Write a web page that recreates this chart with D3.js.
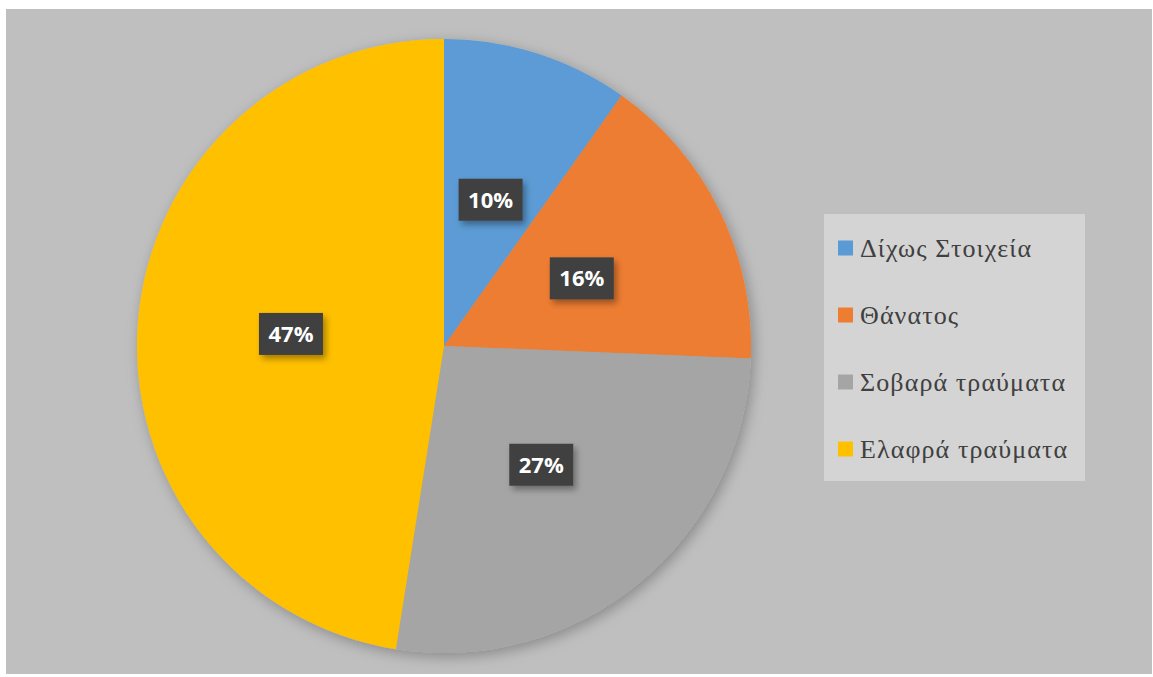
<!DOCTYPE html>
<html>
<head>
<meta charset="utf-8">
<script src="https://cdn.jsdelivr.net/npm/d3@7"></script>
<style>
  body { margin: 0; background: #fff; }
  svg { display: block; }
</style>
</head>
<body>
<svg width="1153" height="677"></svg>
<script>
var categories = ['Δίχως Στοιχεία', 'Θάνατος', 'Σοβαρά τραύματα', 'Ελαφρά τραύματα']
var values = [9.8, 15.8, 26.8, 47.4]
var colors = ['#5b9bd5', '#ed7d31', '#a5a5a5', '#ffc000']

var svg = d3.select('svg')
var defs = svg.append('defs')

var pieShadow = defs.append('filter').attr('id', 'pieShadow')
  .attr('x', '-20%').attr('y', '-20%').attr('width', '140%').attr('height', '140%')
pieShadow.append('feDropShadow')
  .attr('dx', 3).attr('dy', 4).attr('stdDeviation', 7)
  .attr('flood-color', '#000').attr('flood-opacity', 0.28)

var boxShadow = defs.append('filter').attr('id', 'boxShadow')
  .attr('x', '-30%').attr('y', '-30%').attr('width', '170%').attr('height', '180%')
boxShadow.append('feDropShadow')
  .attr('dx', 3).attr('dy', 4).attr('stdDeviation', 3)
  .attr('flood-color', '#000').attr('flood-opacity', 0.35)

// chart area
svg.append('rect')
  .attr('x', 6).attr('y', 9).attr('width', 1146).attr('height', 665)
  .attr('fill', '#bfbfbf')

var cx = 444, cy = 346, r = 307
var total = d3.sum(values)
var pct = d3.format('.0%')

var pie = d3.pie().sort(null)
var arcs = pie(values)
var arc = d3.arc().innerRadius(0).outerRadius(r)
var labelArc = d3.arc().innerRadius(r * 0.5).outerRadius(r * 0.5)

var g = svg.append('g').attr('transform', 'translate(' + cx + ',' + cy + ')')

g.append('g').attr('filter', 'url(#pieShadow)')
  .selectAll('path')
  .data(arcs)
  .enter()
  .append('path')
  .attr('d', arc)
  .attr('fill', function (d, i) { return colors[i] })

var labels = g.selectAll('.label')
  .data(arcs)
  .enter()
  .append('g')
  .attr('class', 'label')
  .attr('transform', function (d) {
    var c = labelArc.centroid(d)
    return 'translate(' + c[0] + ',' + c[1] + ')'
  })

labels.append('rect')
  .attr('x', -32).attr('y', -21).attr('width', 64).attr('height', 42)
  .attr('fill', '#404040')
  .attr('filter', 'url(#boxShadow)')

labels.append('text')
  .attr('text-anchor', 'middle')
  .attr('dy', '0.36em')
  .attr('fill', '#fff')
  .attr('font-family', '"Open Sans", "DejaVu Sans", sans-serif')
  .attr('font-weight', 'bold')
  .attr('font-size', 22)
  .text(function (d) { return pct(d.data / total) })

// legend
var legend = svg.append('g')
legend.append('rect')
  .attr('x', 824).attr('y', 214).attr('width', 261).attr('height', 267)
  .attr('fill', '#d4d4d4')

var ly = d3.scalePoint().domain(categories).range([248, 449])

var item = legend.selectAll('.item')
  .data(categories)
  .enter()
  .append('g')
  .attr('class', 'item')
  .attr('transform', function (d) { return 'translate(838,' + ly(d) + ')' })

item.append('rect')
  .attr('x', 0).attr('y', -7.5).attr('width', 15).attr('height', 15)
  .attr('fill', function (d, i) { return colors[i] })

item.append('text')
  .attr('x', 22)
  .attr('dy', '0.33em')
  .attr('fill', '#404040')
  .attr('font-family', '"Liberation Serif", serif')
  .attr('font-size', 26)
  .attr('letter-spacing', 1.1)
  .text(function (d) { return d })
</script>
</body>
</html>
